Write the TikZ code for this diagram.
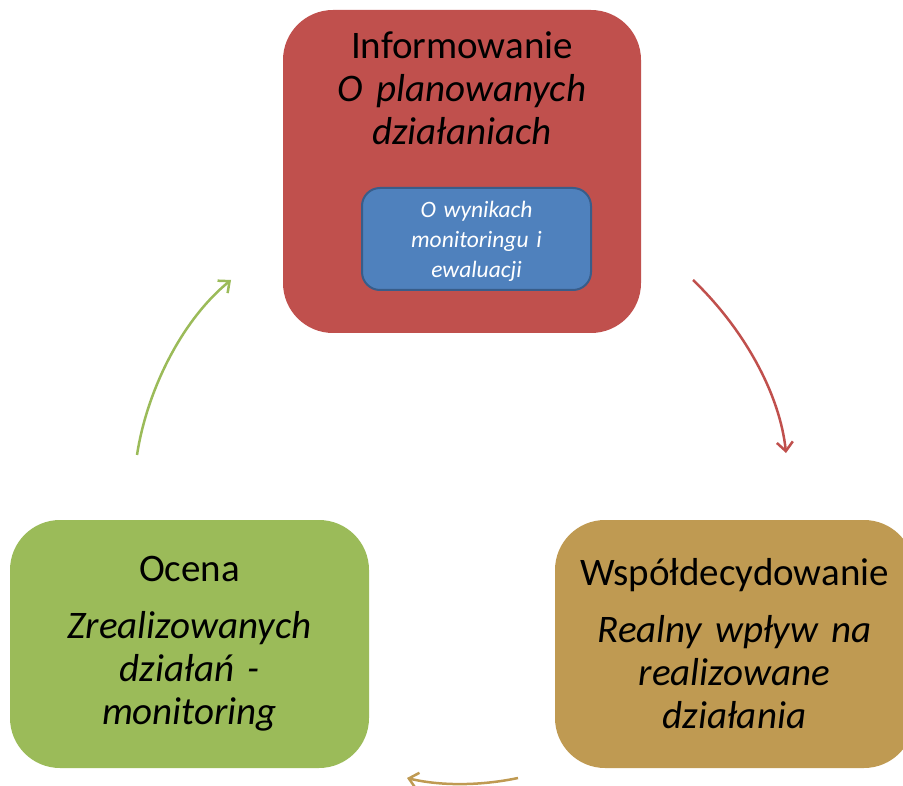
\documentclass[tikz,border=0pt]{standalone}
\usepackage{fontspec}
\setmainfont{Carlito}
\usetikzlibrary{positioning}
\usetikzlibrary{arrows.meta}
\definecolor{informred}{HTML}{C0504D}
\definecolor{assessgreen}{HTML}{9BBB59}
\definecolor{decidegold}{HTML}{BF9A52}
\definecolor{resultblue}{HTML}{4F81BD}
\definecolor{resultline}{HTML}{385D8A}
\begin{document}
\begin{tikzpicture}[x=1pt, y=-1pt,
			stage/.style={rounded corners=50pt, inner sep=0pt, align=center, text width=345pt,
				minimum width=359pt, minimum height=248pt, font=\fontsize{39}{43}\selectfont},
			flow/.style={line width=2.5pt, -{Straight Barb[length=9pt,width=16pt,line width=2.5pt]}}]
			\useasboundingbox (0,0) rectangle (903,786);
			\clip (0,0) rectangle (903,786);
			% top stage with the inner box
			\node[stage, fill=informred, minimum width=358pt, minimum height=323pt](inform) at (462,171.5){};
			\node[align=center, inner sep=0pt, text width=345pt, anchor=north, font=\fontsize{39}{43}\selectfont](informtext) at (462,31)
				{Informowanie\\{\itshape O planowanych\\działaniach}};
			\node[draw=resultline, line width=2pt, fill=resultblue, rounded corners=18pt, minimum width=229pt, minimum height=102pt,
				align=center, text width=220pt, text=white, font=\fontsize{23.5}{30}\selectfont\itshape](results) at (476.5,239)
				{\strut O wynikach\\monitoringu i\\ewaluacji};
			% lower stages
			\node[stage, fill=decidegold](decide) at (734.5,644)
				{Współdecydowanie\\[14pt]{\itshape Realny wpływ na\\realizowane\\działania}};
			\node[stage, fill=assessgreen](assess) at (189.5,644)
				{Ocena\\[14pt]{\itshape Zrealizowanych\\działań -\\monitoring}};
			% cycle arrows
			\coordinate (informout) at (693,280);
			\coordinate (decidein) at (786,453);
			\coordinate (decideout) at (518,778);
			\coordinate (assessin) at (407,778);
			\coordinate (assessout) at (137,455);
			\coordinate (informin) at (231,280);
			\path[draw, flow, informred] (informout) .. controls (745,330) and (780,395) .. (decidein);
			\path[draw, flow, decidegold] (decideout) .. controls (480,786) and (440,786) .. (assessin);
			\path[draw, flow, assessgreen] (assessout) .. controls (147,390) and (182,320) .. (informin);
\end{tikzpicture}
\end{document}
